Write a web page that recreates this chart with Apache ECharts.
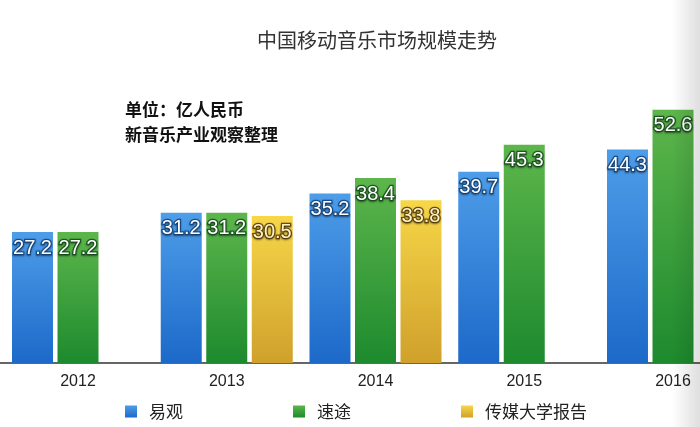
<!DOCTYPE html>
<html>
<head>
<meta charset="utf-8">
<script src="https://cdn.jsdelivr.net/npm/echarts@6/dist/echarts.min.js"></script>
<style>html,body{margin:0;padding:0;background:#fff;}#c{width:700px;height:427px;}</style>
</head>
<body>
<div id="c"></div>
<script>
var categories = ['2012', '2013', '2014', '2015', '2016'];
var seriesNames = ['易观', '速途', '传媒大学报告'];
var yiguan = [27.2, 31.2, 35.2, 39.7, 44.3];
var sutu = [27.2, 31.2, 38.4, 45.3, 52.6];
var chuanmei = [null, 30.5, 33.8, null, null];

var FONT = '"Liberation Sans", "Noto Sans CJK SC", sans-serif';
var CJK = '"Noto Sans CJK SC", sans-serif';

function grad(top, bottom) {
  return new echarts.graphic.LinearGradient(0, 0, 0, 1, [
    {offset: 0, color: top}, {offset: 1, color: bottom}
  ]);
}
function lbl(fill, border) {
  return {
    show: true, position: 'insideTop', distance: 6,
    fontFamily: FONT, fontSize: 20, color: fill,
    textBorderColor: border, textBorderWidth: 2.5,
    textShadowColor: 'rgba(0,0,0,0.35)', textShadowBlur: 2, textShadowOffsetY: 1
  };
}

var chart = echarts.init(document.getElementById('c'), null, {renderer: 'canvas'});
chart.setOption({
  backgroundColor: '#ffffff',
  animation: false,
  title: [
    {text: '中国移动音乐市场规模走势', left: 257, top: 30, padding: 0,
     textStyle: {fontFamily: CJK, fontSize: 20, fontWeight: 'normal', color: '#333'}},
    {text: '单位：亿人民币\n新音乐产业观察整理', left: 125, top: 97, padding: 0,
     textStyle: {fontFamily: CJK, fontSize: 17, fontWeight: 'bold', color: '#111', lineHeight: 25}}
  ],
  legend: {
    data: seriesNames, left: 125, top: 403, padding: 0, itemWidth: 12, itemHeight: 12, itemGap: 110,
    icon: 'rect',
    textStyle: {fontFamily: CJK, fontSize: 17, color: '#222', padding: [0, 0, 0, 7]}
  },
  grid: [
    {left: 78, right: 27, top: 74, bottom: 64},
    {left: 0, right: 0, top: 74, bottom: 64}
  ],
  xAxis: [{
    type: 'category', data: categories, boundaryGap: false, gridIndex: 0,
    axisLine: {show: false},
    axisTick: {show: false},
    axisLabel: {fontFamily: FONT, fontSize: 16, color: '#222', margin: 11}
  }, {
    type: 'category', data: [''], gridIndex: 1,
    axisLine: {lineStyle: {color: '#333', width: 1.5}},
    axisTick: {show: false}, axisLabel: {show: false}
  }],
  yAxis: [
    {type: 'value', min: 0, max: 60, show: false, splitLine: {show: false}, gridIndex: 0},
    {type: 'value', min: 0, max: 60, show: false, splitLine: {show: false}, gridIndex: 1}
  ],
  series: [
    {name: seriesNames[0], type: 'bar', data: yiguan, barWidth: 41, barGap: '11%', clip: false, z: 3,
     itemStyle: {color: grad('#4d9de9', '#1c69c9')}, label: lbl('#ffffff', '#1a4f8c')},
    {name: seriesNames[1], type: 'bar', data: sutu, barWidth: 41, barGap: '11%', clip: false, z: 3,
     itemStyle: {color: grad('#5db64b', '#1d8a2e')}, label: lbl('#ffffff', '#1c5a22')},
    {name: seriesNames[2], type: 'bar', data: chuanmei, barWidth: 41, barGap: '11%', clip: false, z: 3,
     itemStyle: {color: grad('#f7d648', '#cfa12c')}, label: lbl('#fff6c8', '#6a4a0c')}
  ],
  graphic: [{
    type: 'rect', silent: true, z: 100,
    shape: {x: 672, y: 0, width: 28, height: 427},
    style: {fill: new echarts.graphic.LinearGradient(0, 0, 1, 0, [
      {offset: 0, color: 'rgba(0,0,0,0)'}, {offset: 1, color: 'rgba(0,0,0,0.13)'}
    ])}
  }]
});
</script>
</body>
</html>
